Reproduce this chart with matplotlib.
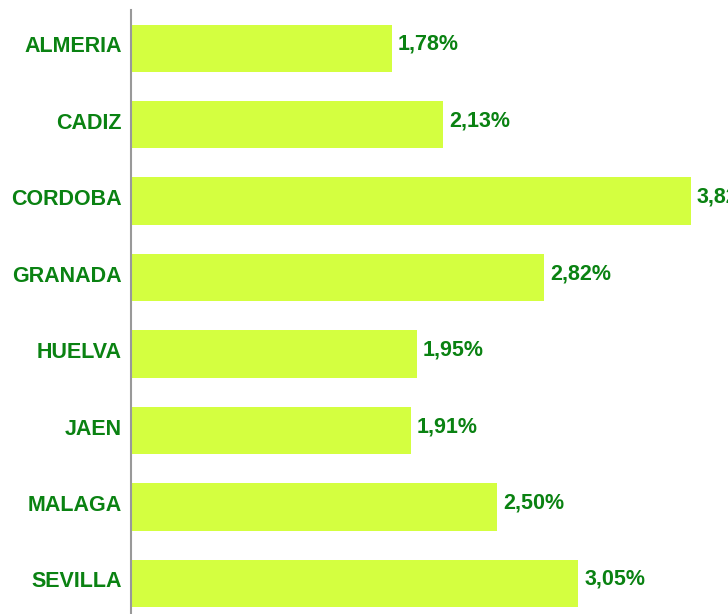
import matplotlib
matplotlib.use("Agg")
import matplotlib.pyplot as plt
from matplotlib.transforms import ScaledTranslation

categories = ["ALMERIA", "CADIZ", "CORDOBA", "GRANADA", "HUELVA", "JAEN", "MALAGA", "SEVILLA"]
values = [1.78, 2.13, 3.82, 2.82, 1.95, 1.91, 2.50, 3.05]

W, H = 728, 614
fig = plt.figure(figsize=(W / 100, H / 100), dpi=100)
left = 131 / W
bottom_px = 621.7
ax = fig.add_axes([left, 1 - bottom_px / H, 586 / W, (bottom_px - 10) / H])

bar_color = "#d4ff40"
text_color = "#0a8212"
font = ["Liberation Sans", "DejaVu Sans"]

ypos = list(range(len(categories)))
ax.barh(ypos, values, height=0.62, color=bar_color, edgecolor="none")
ax.set_ylim(len(categories) - 0.5, -0.5)
ax.set_xlim(0, 4)

for s in ["top", "right", "bottom"]:
    ax.spines[s].set_visible(False)
ax.spines["left"].set_color("#999999")
ax.spines["left"].set_linewidth(1.5)
ax.set_xticks([])
ax.set_yticks(ypos)
ax.set_yticklabels(categories, fontsize=15.5, fontweight="bold", color=text_color, family=font)
ax.tick_params(axis="y", which="major", length=0, pad=6.7)

shift_up = ScaledTranslation(0, 4 / 100, fig.dpi_scale_trans)
for lab in ax.get_yticklabels():
    lab.set_transform(lab.get_transform() + shift_up)

for y, v in zip(ypos, values):
    t = ax.annotate(f"{v:.2f}%".replace(".", ","), xy=(v, y), xytext=(4.5, 2.9),
                    textcoords="offset points", va="center", ha="left",
                    fontsize=15.5, fontweight="bold", color=text_color, family=font,
                    annotation_clip=False)

fig.savefig("out.png", dpi=100)
